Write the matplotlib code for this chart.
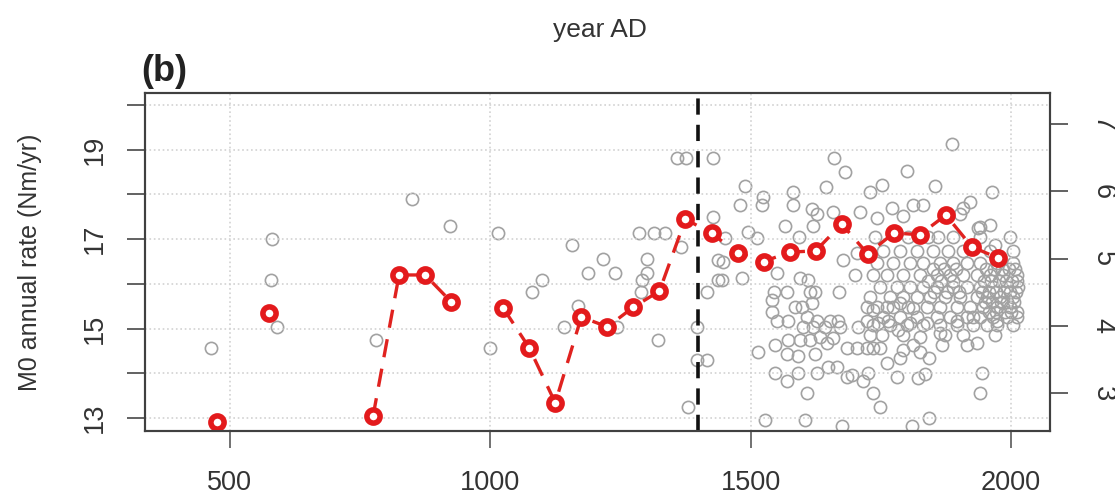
import numpy as np
import matplotlib
matplotlib.use("Agg")
import matplotlib.pyplot as plt

plt.rcParams["font.family"] = ["Liberation Sans", "DejaVu Sans"]

nan = np.nan

# 50-yr M0 annual rate (left axis, red)
red_years = [475, 525, 575, 625, 675, 725, 775, 825, 875, 925, 975, 1025, 1075,
             1125, 1175, 1225, 1275, 1325, 1375, 1425, 1475, 1525, 1575, 1625,
             1675, 1725, 1775, 1825, 1875, 1925, 1975]
red_vals = [12.91, nan, 15.35, nan, nan, nan, 13.04, 16.20, 16.20, 15.60, nan,
            15.46, 14.57, 13.34, 15.26, 15.04, 15.48, 15.84, 17.45, 17.13, 16.70,
            16.50, 16.71, 16.74, 17.34, 16.67, 17.14, 17.10, 17.54, 16.83, 16.58]

# individual events (right axis, grey)
grey_early = [
    (464, 3.68), (579, 4.68), (581, 5.29), (590, 3.98), (780, 3.79), (850, 5.88),
    (922, 5.48), (999, 3.68), (1015, 5.38), (1080, 4.50), (1099, 4.69), (1141, 3.98),
    (1157, 5.20), (1169, 4.29), (1188, 4.78), (1216, 4.99), (1239, 4.78), (1243, 3.98),
    (1285, 5.38), (1289, 4.50), (1291, 4.69), (1302, 4.78), (1302, 4.99), (1314, 5.38),
    (1322, 3.79), (1335, 5.38), (1359, 6.49), (1366, 5.18), (1376, 6.49), (1380, 2.79),
    (1397, 3.49), (1397, 3.98), (1416, 3.49), (1416, 4.50), (1427, 5.62), (1428, 6.49),
    (1437, 4.68), (1437, 4.98),
]
grey_mid = [
    (1445, 4.69), (1447, 4.95), (1451, 5.30), (1479, 5.79), (1483, 4.71), (1489, 6.08),
    (1495, 5.39), (1512, 5.30), (1514, 3.61), (1522, 5.79), (1524, 5.91), (1527, 2.60),
    (1541, 4.38), (1541, 4.20), (1545, 4.50), (1547, 3.71), (1547, 3.30), (1551, 4.08),
    (1551, 4.78), (1566, 5.48), (1570, 4.50), (1570, 3.59), (1570, 3.19), (1572, 4.08),
    (1572, 3.79), (1581, 5.99), (1581, 5.79), (1585, 4.28), (1591, 3.56), (1591, 3.30),
    (1593, 5.32), (1595, 4.71), (1595, 3.79), (1599, 4.28), (1600, 3.98), (1604, 2.60),
    (1608, 4.13), (1608, 3.01), (1610, 4.68), (1614, 4.50), (1614, 3.79), (1618, 5.73),
    (1618, 4.34), (1620, 5.48), (1620, 3.98), (1624, 4.50), (1624, 3.59), (1627, 5.67),
    (1627, 4.08), (1627, 3.30), (1633, 3.83), (1643, 3.98), (1645, 6.06), (1647, 3.74),
    (1648, 3.39), (1652, 4.08), (1658, 5.69), (1658, 3.82), (1660, 6.49), (1666, 3.39),
    (1670, 4.50), (1668, 4.08), (1672, 3.98), (1675, 2.52), (1677, 4.98), (1681, 6.28),
    (1685, 3.68), (1685, 3.24), (1695, 3.27), (1700, 4.75), (1704, 5.08), (1704, 3.68),
    (1706, 3.98), (1710, 5.69), (1716, 3.19), (1723, 3.68), (1723, 4.28), (1723, 4.08),
    (1725, 3.30), (1729, 5.99), (1735, 3.68), (1735, 3.01), (1735, 4.23), (1743, 5.60),
    (1744, 4.04), (1748, 3.68), (1748, 2.79), (1752, 6.09), (1752, 3.86),
]
grey_late = [
    (1762, 3.45), (1762, 4.28), (1764, 4.08), (1771, 5.75), (1781, 3.24), (1783, 3.94),
    (1787, 3.53), (1787, 4.34), (1792, 3.64), (1792, 5.64), (1800, 6.30), (1806, 4.04),
    (1810, 2.52), (1812, 4.26), (1812, 5.79), (1822, 3.23), (1825, 3.83), (1825, 3.61),
    (1831, 5.79), (1835, 3.28), (1839, 4.04), (1843, 3.52), (1842, 2.63), (1854, 6.08),
    (1864, 3.89), (1887, 6.71), (1896, 4.08), (1902, 5.67), (1908, 5.75), (1915, 3.71),
    (1921, 5.84), (1927, 4.13), (1935, 3.74), (1937, 5.45), (1940, 5.47), (1940, 3.01),
    (1944, 3.30), (1954, 4.01), (1960, 5.50), (1963, 5.99), (1969, 5.20), (1973, 4.08),
    (1812, 3.71), (1867, 3.71),
]
# dense cloud after 1725, read row by row: value -> years
grey_rows = {
    5.32: [1739, 1802, 1841, 1860, 1889, 1940, 1998],
    5.12: [1754, 1787, 1819, 1850, 1879, 1908, 1960, 2004],
    4.93: [1743, 1773, 1806, 1831, 1864, 1889, 1915, 1940, 1973, 2004],
    4.85: [1850, 1872, 1895, 1952, 1967, 1983, 1996, 2008],
    4.75: [1735, 1762, 1792, 1825, 1858, 1883, 1908, 1935, 1960, 1985, 2011],
    4.67: [1840, 1865, 1888, 1948, 1962, 1977, 1990, 2002, 2012],
    4.58: [1748, 1781, 1806, 1831, 1858, 1889, 1915, 1940, 1965, 1992, 2013],
    4.50: [1852, 1878, 1900, 1945, 1958, 1971, 1986, 1999, 2009],
    4.43: [1729, 1767, 1792, 1819, 1844, 1873, 1902, 1935, 1954, 1979, 2004],
    4.35: [1950, 1963, 1980, 1993, 2006],
    4.28: [1743, 1773, 1802, 1839, 1864, 1896, 1921, 1946, 1973, 1998],
    4.20: [1957, 1972, 1988, 2001, 2012],
    4.13: [1754, 1787, 1819, 1858, 1883, 1915, 1940, 1965, 1992, 2011],
    4.01: [1735, 1767, 1800, 1831, 1864, 1896, 1927, 1973, 2004],
    3.86: [1729, 1792, 1873, 1908, 1969],
}

pts = grey_early + grey_mid + grey_late
for v, yrs in grey_rows.items():
    pts += [(y, v) for y in yrs]
grey_years = np.array([p[0] for p in pts])
grey_vals = np.array([p[1] for p in pts])

txt = "#333333"
fig = plt.figure(figsize=(11.15, 4.95), dpi=100)
ax = fig.add_axes([0.130, 0.1293, 0.8117, 0.6828])
ax2 = ax.twinx()
ax.set_zorder(2)
ax2.set_zorder(1)
ax.patch.set_visible(False)

ax2.plot(grey_years, grey_vals, "o", ms=8.8, mfc="none", mec="#a2a2a2", mew=1.2, ls="none")

ax.axvline(1400, color="#111111", lw=2.6, dashes=(4.5, 2.8))
ax.plot(red_years, red_vals, color="#e0221f", lw=2.4, dashes=(5.5, 3.5))
ax.plot(red_years, red_vals, "o", ms=9.5, mfc="white", mec="#e31a1c", mew=4.0, ls="none")

ax.set_xlim(337, 2075)
ax.set_ylim(12.71, 20.27)
ax2.set_ylim(2.44, 7.46)

ax.set_xticks([500, 1000, 1500, 2000])
ax.set_yticks(range(13, 21))
ax.set_yticklabels(["13", "", "15", "", "17", "", "19", ""], rotation=90, va="center")
ax2.set_yticks([3, 4, 5, 6, 7])
ax2.set_yticklabels(["3", "4", "5", "6", "7"], rotation=270, va="center", ha="center")

ax.grid(True, ls=":", color="#d2d2d2", lw=1.2)
for a in (ax, ax2):
    for s in a.spines.values():
        s.set_color("#404040")
        s.set_linewidth(1.5)
ax.tick_params(axis="x", length=12, width=1.3, color="#666666", labelsize=19.5,
               labelcolor=txt, pad=16)
ax.tick_params(axis="y", length=13, width=1.3, color="#555555", labelsize=19.5,
               labelcolor=txt, pad=14)
ax2.tick_params(axis="y", length=13, width=1.3, color="#555555", labelsize=19.5,
                labelcolor=txt, pad=25)

fig.text(0.027, 0.471, "M0 annual rate (Nm/yr)", rotation=90, ha="center", va="center",
         fontsize=18, color=txt)
fig.text(0.538, 0.939, "year AD", ha="center", va="center", fontsize=19, color=txt)
fig.text(0.127, 0.855, "(b)", ha="left", va="center", fontsize=26, fontweight="bold",
         color="#222222")

fig.savefig("out.png", dpi=100)
